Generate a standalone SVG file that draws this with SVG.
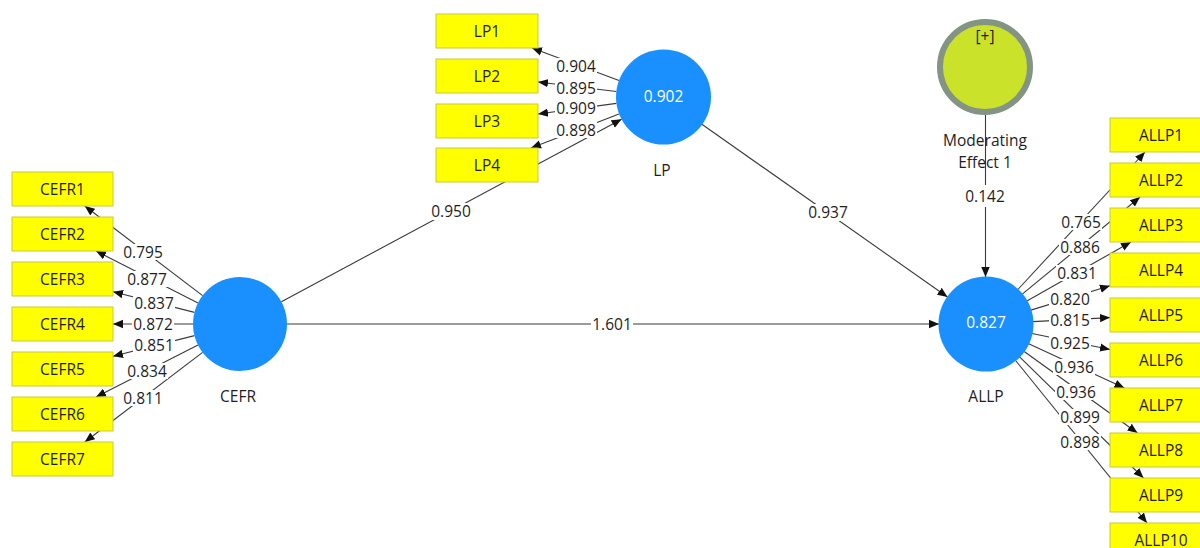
<svg xmlns="http://www.w3.org/2000/svg" width="1200" height="548" viewBox="0 0 1200 548">
<defs>
<marker id="ah" markerWidth="10" markerHeight="10" refX="10" refY="5" orient="auto" markerUnits="userSpaceOnUse">
<path d="M0,0.8 L10,5 L0,9.2 Z" fill="#111"/>
</marker>
<style>
.ln{stroke:#3a3a3a;stroke-width:1.1;fill:none;marker-end:url(#ah)}
.lb{font-family:"Open Sans","Noto Sans","DejaVu Sans",sans-serif;font-size:15.5px;fill:#1e1e1e;text-anchor:middle;dominant-baseline:central}
.bg{fill:#fff}
.ind rect{fill:#ffff00;stroke:#c9c93a;stroke-width:1}
.ind text{font-family:"Open Sans","Noto Sans","DejaVu Sans",sans-serif;font-size:15.5px;fill:#1e1e1e;text-anchor:middle;dominant-baseline:central}
.lv circle{fill:#1a90ff}
.lv .v{font-family:"Open Sans","Noto Sans","DejaVu Sans",sans-serif;font-size:15.5px;fill:#fff;text-anchor:middle;dominant-baseline:central}
.nm{font-family:"Open Sans","Noto Sans","DejaVu Sans",sans-serif;font-size:15.5px;fill:#1e1e1e;text-anchor:middle;dominant-baseline:central}
</style>
</defs>
<rect width="1200" height="548" fill="#fff"/>
<g id="connectors">
<line class="ln" x1="202.6" y1="295.6" x2="84.8" y2="206"/>
<line class="ln" x1="198" y1="303" x2="96" y2="251"/>
<line class="ln" x1="194.5" y1="312.4" x2="113" y2="291.7"/>
<line class="ln" x1="193" y1="324" x2="113" y2="324"/>
<line class="ln" x1="194.5" y1="335.6" x2="113" y2="356.3"/>
<line class="ln" x1="198" y1="345" x2="96" y2="397"/>
<line class="ln" x1="202.6" y1="352.4" x2="84.8" y2="442"/>
<line class="ln" x1="619" y1="80.5" x2="532" y2="48"/>
<line class="ln" x1="616.3" y1="91.5" x2="538" y2="82"/>
<line class="ln" x1="616.4" y1="103.4" x2="538" y2="114"/>
<line class="ln" x1="619" y1="114" x2="531" y2="148"/>
<line class="ln" x1="281.4" y1="301.7" x2="621.6" y2="119.3"/>
<line class="ln" x1="287" y1="324" x2="939" y2="324"/>
<line class="ln" x1="701.5" y1="124" x2="947.5" y2="297"/>
<line class="ln" x1="985.5" y1="115" x2="985.5" y2="277"/>
<line class="ln" x1="1017.9" y1="289.5" x2="1145" y2="152"/>
<line class="ln" x1="1022.3" y1="294.2" x2="1140" y2="197"/>
<line class="ln" x1="1026.9" y1="300.9" x2="1131" y2="242"/>
<line class="ln" x1="1030.9" y1="310.1" x2="1110" y2="285.7"/>
<line class="ln" x1="1033" y1="321.6" x2="1110" y2="317.6"/>
<line class="ln" x1="1032" y1="333.5" x2="1110" y2="349.5"/>
<line class="ln" x1="1028.7" y1="343.7" x2="1124.4" y2="388"/>
<line class="ln" x1="1024.2" y1="351.5" x2="1137.5" y2="433"/>
<line class="ln" x1="1019.6" y1="356.9" x2="1143.5" y2="478"/>
<line class="ln" x1="1015.6" y1="360.5" x2="1147" y2="523"/>
<g id="labels">
<rect class="bg" x="122" y="244" width="42" height="16"/><text class="lb" x="143" y="252">0.795</text>
<rect class="bg" x="126" y="271" width="42" height="16"/><text class="lb" x="147" y="279">0.877</text>
<rect class="bg" x="133" y="295" width="42" height="16"/><text class="lb" x="154" y="303">0.837</text>
<rect class="bg" x="132" y="316" width="42" height="16"/><text class="lb" x="153" y="324">0.872</text>
<rect class="bg" x="133" y="337" width="42" height="16"/><text class="lb" x="154" y="345">0.851</text>
<rect class="bg" x="126" y="363" width="42" height="16"/><text class="lb" x="147" y="371">0.834</text>
<rect class="bg" x="122" y="390" width="42" height="16"/><text class="lb" x="143" y="398">0.811</text>
<rect class="bg" x="555" y="58" width="42" height="16"/><text class="lb" x="576" y="66">0.904</text>
<rect class="bg" x="555" y="80" width="42" height="16"/><text class="lb" x="576" y="88">0.895</text>
<rect class="bg" x="555" y="100" width="42" height="16"/><text class="lb" x="576" y="108">0.909</text>
<rect class="bg" x="555" y="122" width="42" height="16"/><text class="lb" x="576" y="130">0.898</text>
<rect class="bg" x="430" y="203" width="42" height="17"/><text class="lb" x="451" y="211">0.950</text>
<rect class="bg" x="591" y="316" width="42" height="17"/><text class="lb" x="612" y="324">1.601</text>
<rect class="bg" x="807" y="204" width="42" height="17"/><text class="lb" x="828" y="212">0.937</text>
<rect class="bg" x="964" y="185" width="42" height="22"/><text class="lb" x="985" y="196">0.142</text>
<rect class="bg" x="1060" y="214" width="42" height="16"/><text class="lb" x="1081" y="222">0.765</text>
<rect class="bg" x="1059" y="239" width="42" height="16"/><text class="lb" x="1080" y="247">0.886</text>
<rect class="bg" x="1056" y="265" width="42" height="16"/><text class="lb" x="1077" y="273">0.831</text>
<rect class="bg" x="1049" y="291" width="42" height="16"/><text class="lb" x="1070" y="299">0.820</text>
<rect class="bg" x="1049" y="312" width="42" height="16"/><text class="lb" x="1070" y="320">0.815</text>
<rect class="bg" x="1049" y="335" width="42" height="16"/><text class="lb" x="1070" y="343">0.925</text>
<rect class="bg" x="1053" y="359" width="42" height="16"/><text class="lb" x="1074" y="367">0.936</text>
<rect class="bg" x="1055" y="384" width="42" height="16"/><text class="lb" x="1076" y="392">0.936</text>
<rect class="bg" x="1059" y="409" width="42" height="16"/><text class="lb" x="1080" y="417">0.899</text>
<rect class="bg" x="1059" y="434" width="42" height="16"/><text class="lb" x="1080" y="442">0.898</text>
</g>
</g>
<g id="CEFR1" class="ind"><rect x="12" y="172" width="101" height="34"/><text x="62.5" y="189">CEFR1</text></g>
<g id="CEFR2" class="ind"><rect x="12" y="217" width="101" height="34"/><text x="62.5" y="234">CEFR2</text></g>
<g id="CEFR3" class="ind"><rect x="12" y="262" width="101" height="34"/><text x="62.5" y="279">CEFR3</text></g>
<g id="CEFR4" class="ind"><rect x="12" y="307" width="101" height="34"/><text x="62.5" y="324">CEFR4</text></g>
<g id="CEFR5" class="ind"><rect x="12" y="352" width="101" height="34"/><text x="62.5" y="369">CEFR5</text></g>
<g id="CEFR6" class="ind"><rect x="12" y="397" width="101" height="34"/><text x="62.5" y="414">CEFR6</text></g>
<g id="CEFR7" class="ind"><rect x="12" y="442" width="101" height="34"/><text x="62.5" y="459">CEFR7</text></g>
<g id="LP1" class="ind"><rect x="436" y="14" width="102" height="34"/><text x="487" y="31">LP1</text></g>
<g id="LP2" class="ind"><rect x="436" y="59" width="102" height="34"/><text x="487" y="76">LP2</text></g>
<g id="LP3" class="ind"><rect x="436" y="104" width="102" height="34"/><text x="487" y="121">LP3</text></g>
<g id="LP4" class="ind"><rect x="436" y="148" width="102" height="34"/><text x="487" y="165">LP4</text></g>
<g id="ALLP1" class="ind"><rect x="1110" y="118" width="102" height="34"/><text x="1161" y="135">ALLP1</text></g>
<g id="ALLP2" class="ind"><rect x="1110" y="163" width="102" height="34"/><text x="1161" y="180">ALLP2</text></g>
<g id="ALLP3" class="ind"><rect x="1110" y="208" width="102" height="34"/><text x="1161" y="225">ALLP3</text></g>
<g id="ALLP4" class="ind"><rect x="1110" y="253" width="102" height="34"/><text x="1161" y="270">ALLP4</text></g>
<g id="ALLP5" class="ind"><rect x="1110" y="298" width="102" height="34"/><text x="1161" y="315">ALLP5</text></g>
<g id="ALLP6" class="ind"><rect x="1110" y="343" width="102" height="34"/><text x="1161" y="360">ALLP6</text></g>
<g id="ALLP7" class="ind"><rect x="1110" y="388" width="102" height="34"/><text x="1161" y="405">ALLP7</text></g>
<g id="ALLP8" class="ind"><rect x="1110" y="433" width="102" height="34"/><text x="1161" y="450">ALLP8</text></g>
<g id="ALLP9" class="ind"><rect x="1110" y="478" width="102" height="34"/><text x="1161" y="495">ALLP9</text></g>
<g id="ALLP10" class="ind"><rect x="1110" y="523" width="102" height="34"/><text x="1161" y="540">ALLP10</text></g>
<g id="CEFR" class="lv"><circle cx="240" cy="324" r="47"/><text class="nm" x="238" y="396">CEFR</text></g>
<g id="LP" class="lv"><circle cx="663.5" cy="97" r="47.5"/><text class="v" x="663.5" y="96">0.902</text><text class="nm" x="662" y="170">LP</text></g>
<g id="ALLP" class="lv"><circle cx="986" cy="324" r="47.5"/><text class="v" x="986" y="322">0.827</text><text class="nm" x="986" y="396">ALLP</text></g>
<g id="ModeratingEffect1">
<circle cx="985" cy="67" r="45" fill="#cbe22a" stroke="#849484" stroke-width="6"/>
<text class="nm" x="985" y="36">[+]</text>
<text class="nm" x="985" y="140">Moderating</text>
<text class="nm" x="985" y="162">Effect 1</text>
</g>
</svg>
